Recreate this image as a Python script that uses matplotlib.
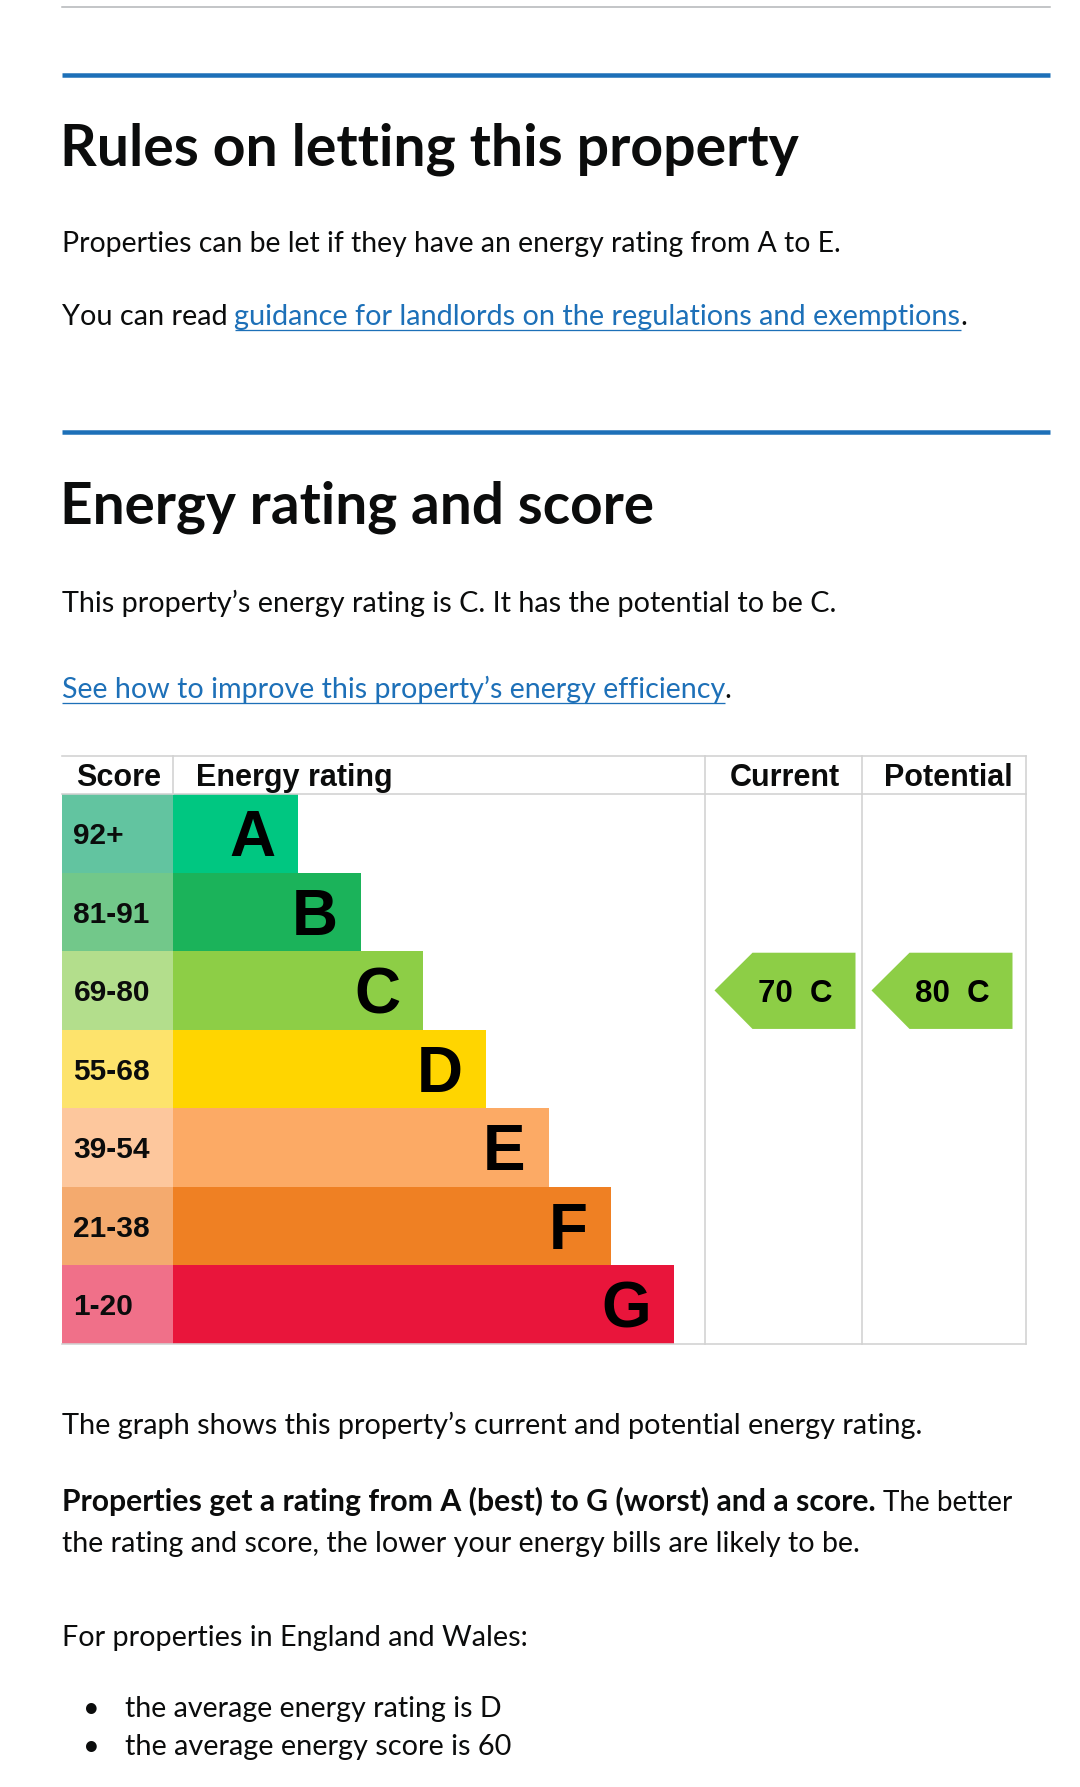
import matplotlib
matplotlib.use('Agg')
import matplotlib.pyplot as plt
from matplotlib.patches import Polygon
import numpy as np

# ---------------- data ----------------
bands = ['A', 'B', 'C', 'D', 'E', 'F', 'G']
score_ranges = ['92+', '81-91', '69-80', '55-68', '39-54', '21-38', '1-20']
band_min_scores = [92, 81, 69, 55, 39, 21, 1]
bar_lengths = [2, 3, 4, 5, 6, 7, 8]
band_colors = ['#00c781', '#1bb35a', '#8dce46', '#ffd500', '#fcaa65', '#ef8023', '#e9153b']
score_colors = ['#62c4a0', '#72c88a', '#b3de8c', '#fde36c', '#fdc79d', '#f4aa6e', '#f07089']
column_headers = ['Score', 'Energy rating', 'Current', 'Potential']
current_score = 70
potential_score = 80

# ---------------- page ----------------
W, H = 1080, 1787
fig = plt.figure(figsize=(W / 100, H / 100), dpi=100)
fig.patch.set_facecolor('white')
page = fig.add_axes([0, 0, 1, 1])
page.set_xlim(0, W)
page.set_ylim(H, 0)
page.axis('off')
renderer = fig.canvas.get_renderer()

TEXT = '#0b0c0c'
LINK = '#1d70b8'
BODY_FONT = ['Lato', 'DejaVu Sans']
CHART_FONT = ['Liberation Sans', 'DejaVu Sans']
PX = 0.72  # points per pixel


def put(x, y, s, size, weight='normal', color=TEXT, family=BODY_FONT, ha='left'):
    return page.text(x, y, s, fontsize=size, fontweight=weight, color=color,
                     family=family, va='baseline', ha=ha)


def wpx(s, size, weight='normal', family=BODY_FONT):
    t = page.text(0, 0, s, fontsize=size, fontweight=weight, family=family)
    w = t.get_window_extent(renderer).width
    t.remove()
    return w


def fit_size(s, target, weight='normal', family=BODY_FONT, base=20.0):
    return base * target / wpx(s, base, weight, family)


def underline(x0, x1, y, color=LINK):
    page.plot([x0, x1], [y, y], color=color, lw=1.3 * PX, solid_capstyle='butt')


def line(y, s, target):
    put(LEFT, y, s, fit_size(s, target))


LEFT = 61.5
RIGHT = 1050

# rules
page.plot([LEFT, RIGHT], [7, 7], color='#b1b4b6', lw=1.5 * PX)
page.plot([LEFT, RIGHT], [75, 75], color=LINK, lw=4.5 * PX, solid_capstyle='butt')
page.plot([LEFT, RIGHT], [432, 432], color=LINK, lw=4.5 * PX, solid_capstyle='butt')

# headings
h1 = 'Rules on letting this property'
put(LEFT - 1, 165, h1, fit_size(h1, 739, 'bold'), 'bold')
h2 = 'Energy rating and score'
put(LEFT - 1, 523, h2, fit_size(h2, 594, 'bold'), 'bold')

line(252, 'Properties can be let if they have an energy rating from A to E.', 779)

# "You can read <link>."
p_a = 'You can read '
p_link = 'guidance for landlords on the regulations and exemptions'
S2 = fit_size(p_a + p_link + '.', 908)
put(LEFT, 325, p_a, S2)
x_link = LEFT + wpx(p_a + p_link, S2) - wpx(p_link, S2)
put(x_link, 325, p_link, S2, color=LINK)
x_link_end = x_link + wpx(p_link, S2)
put(x_link_end, 325, '.', S2)
underline(x_link, x_link_end, 330)

line(612, 'This property\u2019s energy rating is C. It has the potential to be C.', 775)
l2 = 'See how to improve this property\u2019s energy efficiency'
S3 = fit_size(l2 + '.', 671)
put(LEFT, 698, l2, S3, color=LINK)
l2_end = LEFT + wpx(l2, S3)
put(l2_end, 698, '.', S3)
underline(LEFT, l2_end, 703)

# lower text
line(1434, 'The graph shows this property\u2019s current and potential energy rating.', 864)
b_bold = 'Properties get a rating from A (best) to G (worst) and a score.'
b_reg = 'The better'
put(LEFT, 1511, b_bold, fit_size(b_bold, 813, 'bold'), 'bold')
put(883, 1511, b_reg, fit_size(b_reg, 130))
line(1552, 'the rating and score, the lower your energy bills are likely to be.', 799)
line(1646, 'For properties in England and Wales:', 466)
bullets = ['the average energy rating is D', 'the average energy score is 60']
bullet_widths = [377.5, 387.5]
for yb, s, bw in zip([1717, 1755], bullets, bullet_widths):
    sz = fit_size(s, bw)
    put(91, yb, '\u2022', sz, ha='center')
    put(125, yb, s, sz)

# ---------------- chart table ----------------
tx0, tx1, ty0, ty_hdr, ty1 = 61.5, 1026.0, 756.0, 794.0, 1344.0
row_px = (ty1 - ty_hdr) / len(bands)
hdr = (ty_hdr - ty0) / row_px
tab = fig.add_axes([tx0 / W, 1 - ty1 / H, (tx1 - tx0) / W, (ty1 - ty0) / H])
tab.set_xlim(0, tx1 - tx0)
tab.set_ylim(len(bands), -hdr)
tab.axis('off')

unit = 62.6
score_w = 111.5
col_rating_end = 643.5
col_current_end = 800.5
col_pot_end = tx1 - tx0

yc = np.arange(len(bands)) + 0.5
tab.barh(yc, [score_w] * len(bands), left=0, height=1.0, color=score_colors, linewidth=0)
bar_w = np.array(bar_lengths) * unit
tab.barh(yc, bar_w, left=score_w, height=1.0, color=band_colors, linewidth=0)


def cap_half(size_pt):
    return (size_pt / PX) * 0.716 / 2 / row_px


for i, (b, r) in enumerate(zip(bands, score_ranges)):
    tab.text(score_w + bar_w[i] - 23, yc[i] + cap_half(46), b, ha='right', va='baseline',
             fontsize=46, fontweight='bold', family=CHART_FONT, color='black')
    tab.text(12, yc[i] + cap_half(21.5), r, ha='left', va='baseline',
             fontsize=21.5, fontweight='bold', family=CHART_FONT, color=TEXT)

# headers
hdr_base = -7.5 / row_px
tab.text(14.5, hdr_base, column_headers[0], ha='left', va='baseline', fontsize=22,
         fontweight='bold', family=CHART_FONT, color=TEXT)
tab.text(score_w + 23, hdr_base, column_headers[1], ha='left', va='baseline', fontsize=22,
         fontweight='bold', family=CHART_FONT, color=TEXT)
tab.text((col_rating_end + col_current_end) / 2 + 1, hdr_base, column_headers[2], ha='center',
         va='baseline', fontsize=22, fontweight='bold', family=CHART_FONT, color=TEXT)
tab.text((col_current_end + col_pot_end) / 2 + 4, hdr_base, column_headers[3], ha='center',
         va='baseline', fontsize=22, fontweight='bold', family=CHART_FONT, color=TEXT)

# grid lines
gc = '#d2d2d2'
glw = 1.6 * PX
for yy in [-hdr, 0, len(bands)]:
    tab.plot([0, col_pot_end], [yy, yy], color=gc, lw=glw, clip_on=False, zorder=5)
tab.plot([score_w, score_w], [-hdr, 0], color=gc, lw=glw, clip_on=False, zorder=5)
for xx in [col_rating_end, col_current_end, col_pot_end]:
    tab.plot([xx, xx], [-hdr, len(bands)], color=gc, lw=glw, clip_on=False, zorder=5)


def band_index(score):
    for i, m in enumerate(band_min_scores):
        if score >= m:
            return i
    return len(bands) - 1


def arrow(score, col_left):
    i = band_index(score)
    tip = col_left + 9.5
    depth, width = 38, 141
    pts = [(tip, i + 0.5), (tip + depth, i + 0.02), (tip + width, i + 0.02),
           (tip + width, i + 0.99), (tip + depth, i + 0.99)]
    tab.add_patch(Polygon(pts, closed=True, facecolor=band_colors[i], edgecolor='none', zorder=4))
    tab.text(tip + 80.5, i + 0.5 + cap_half(22.5), f'{score}  {bands[i]}', ha='center',
             va='baseline', fontsize=22.5, fontweight='bold', family=CHART_FONT,
             color='black', zorder=6)


arrow(current_score, col_rating_end)
arrow(potential_score, col_current_end)

fig.savefig('out.png', dpi=100, facecolor='white')
